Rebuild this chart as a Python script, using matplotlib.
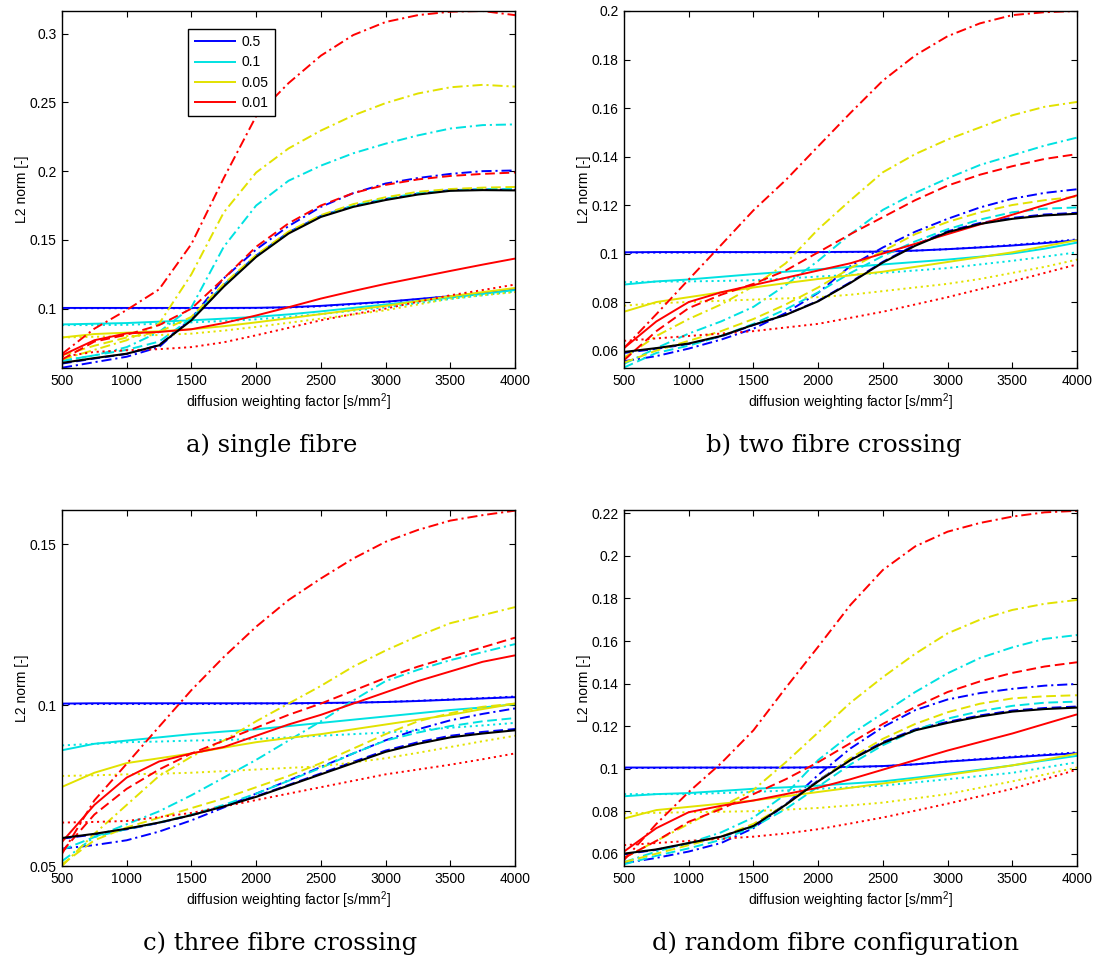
import matplotlib
matplotlib.use("Agg")
import matplotlib.pyplot as plt
from matplotlib.ticker import FuncFormatter, FixedLocator

plt.rcParams["font.family"] = ["Liberation Sans", "DejaVu Sans"]
plt.rcParams["mathtext.fontset"] = "custom"
plt.rcParams["mathtext.rm"] = "Liberation Sans"
plt.rcParams["mathtext.it"] = "Liberation Sans:italic"

# b-values [s/mm^2]
bvalues = [500, 750, 1000, 1250, 1500, 1750, 2000, 2250, 2500, 2750, 3000, 3250, 3500, 3750, 4000]

# legend entries (one colour per value)
legend_labels = ["0.5", "0.1", "0.05", "0.01"]

# ---------------- a) single fibre ----------------
single_reference = [0.0605, 0.0640, 0.0672, 0.0733, 0.0915, 0.1160, 0.1376, 0.1546, 0.1667, 0.1740, 0.1790, 0.1830, 0.1857, 0.1862, 0.1860]
single_blue_solid = [0.1005, 0.1005, 0.1005, 0.1005, 0.1005, 0.1005, 0.1006, 0.1010, 0.1020, 0.1035, 0.1050, 0.1070, 0.1090, 0.1112, 0.1140]
single_blue_dashed = [0.0600, 0.0637, 0.0670, 0.0735, 0.0925, 0.1172, 0.1386, 0.1555, 0.1675, 0.1748, 0.1797, 0.1836, 0.1862, 0.1867, 0.1865]
single_blue_dotted = [0.1003, 0.1003, 0.1003, 0.1003, 0.1003, 0.1003, 0.1004, 0.1008, 0.1017, 0.1032, 0.1048, 0.1068, 0.1090, 0.1113, 0.1142]
single_blue_dashdot = [0.0570, 0.0610, 0.0650, 0.0720, 0.0930, 0.1220, 0.1430, 0.1600, 0.1740, 0.1840, 0.1910, 0.1950, 0.1980, 0.2000, 0.2005]
single_cyan_solid = [0.0885, 0.0890, 0.0895, 0.0905, 0.0915, 0.0927, 0.0940, 0.0958, 0.0980, 0.1005, 0.1030, 0.1055, 0.1080, 0.1107, 0.1135]
single_cyan_dashed = [0.0620, 0.0660, 0.0700, 0.0760, 0.0930, 0.1170, 0.1380, 0.1550, 0.1670, 0.1750, 0.1800, 0.1840, 0.1860, 0.1870, 0.1870]
single_cyan_dotted = [0.0880, 0.0880, 0.0882, 0.0890, 0.0900, 0.0910, 0.0922, 0.0940, 0.0960, 0.0985, 0.1010, 0.1040, 0.1070, 0.1097, 0.1125]
single_cyan_dashdot = [0.0620, 0.0660, 0.0720, 0.0830, 0.1010, 0.1450, 0.1750, 0.1930, 0.2040, 0.2130, 0.2200, 0.2260, 0.2310, 0.2335, 0.2340]
single_yellow_solid = [0.0790, 0.0815, 0.0825, 0.0835, 0.0850, 0.0872, 0.0900, 0.0930, 0.0960, 0.0990, 0.1020, 0.1055, 0.1090, 0.1120, 0.1150]
single_yellow_dashed = [0.0660, 0.0730, 0.0790, 0.0830, 0.0940, 0.1180, 0.1390, 0.1560, 0.1680, 0.1760, 0.1810, 0.1850, 0.1870, 0.1880, 0.1885]
single_yellow_dotted = [0.0790, 0.0795, 0.0800, 0.0808, 0.0818, 0.0840, 0.0867, 0.0897, 0.0927, 0.0957, 0.0988, 0.1030, 0.1073, 0.1097, 0.1120]
single_yellow_dashdot = [0.0630, 0.0700, 0.0770, 0.0890, 0.1250, 0.1700, 0.1990, 0.2165, 0.2295, 0.2405, 0.2495, 0.2565, 0.2610, 0.2628, 0.2615]
single_red_solid = [0.0660, 0.0770, 0.0820, 0.0830, 0.0850, 0.0895, 0.0950, 0.1010, 0.1073, 0.1128, 0.1180, 0.1227, 0.1274, 0.1320, 0.1364]
single_red_dashed = [0.0630, 0.0760, 0.0810, 0.0880, 0.1000, 0.1220, 0.1450, 0.1620, 0.1750, 0.1840, 0.1900, 0.1940, 0.1965, 0.1980, 0.1990]
single_red_dotted = [0.0650, 0.0685, 0.0697, 0.0705, 0.0720, 0.0755, 0.0806, 0.0860, 0.0915, 0.0960, 0.1000, 0.1050, 0.1097, 0.1135, 0.1175]
single_red_dashdot = [0.0670, 0.0854, 0.0990, 0.1140, 0.1470, 0.1950, 0.2400, 0.2640, 0.2840, 0.2990, 0.3085, 0.3135, 0.3160, 0.3165, 0.3135]

# ---------------- b) two fibre crossing ----------------
two_reference = [0.0594, 0.0610, 0.0629, 0.0660, 0.0706, 0.0747, 0.0803, 0.0879, 0.0963, 0.1032, 0.1088, 0.1122, 0.1143, 0.1157, 0.1164]
two_blue_solid = [0.1005, 0.1006, 0.1006, 0.1006, 0.1006, 0.1006, 0.1006, 0.1007, 0.1008, 0.1012, 0.1018, 0.1025, 0.1033, 0.1043, 0.1055]
two_blue_dashed = [0.0590, 0.0607, 0.0627, 0.0658, 0.0705, 0.0748, 0.0805, 0.0882, 0.0966, 0.1036, 0.1092, 0.1126, 0.1147, 0.1161, 0.1168]
two_blue_dotted = [0.1003, 0.1004, 0.1004, 0.1005, 0.1005, 0.1005, 0.1005, 0.1006, 0.1008, 0.1012, 0.1018, 0.1026, 0.1035, 0.1046, 0.1058]
two_blue_dashdot = [0.0556, 0.0577, 0.0608, 0.0645, 0.0690, 0.0755, 0.0838, 0.0949, 0.1025, 0.1090, 0.1143, 0.1190, 0.1226, 0.1250, 0.1265]
two_cyan_solid = [0.0872, 0.0885, 0.0893, 0.0904, 0.0915, 0.0925, 0.0935, 0.0945, 0.0955, 0.0965, 0.0975, 0.0987, 0.1000, 0.1020, 0.1045]
two_cyan_dashed = [0.0530, 0.0590, 0.0620, 0.0660, 0.0710, 0.0770, 0.0840, 0.0920, 0.0990, 0.1050, 0.1100, 0.1140, 0.1170, 0.1185, 0.1190]
two_cyan_dotted = [0.0882, 0.0884, 0.0885, 0.0887, 0.0890, 0.0897, 0.0905, 0.0912, 0.0920, 0.0930, 0.0940, 0.0955, 0.0970, 0.0987, 0.1005]
two_cyan_dashdot = [0.0545, 0.0610, 0.0670, 0.0720, 0.0780, 0.0870, 0.0970, 0.1080, 0.1180, 0.1250, 0.1310, 0.1365, 0.1405, 0.1445, 0.1478]
two_yellow_solid = [0.0760, 0.0800, 0.0820, 0.0840, 0.0860, 0.0878, 0.0895, 0.0910, 0.0925, 0.0945, 0.0965, 0.0985, 0.1005, 0.1030, 0.1055]
two_yellow_dashed = [0.0550, 0.0600, 0.0640, 0.0680, 0.0730, 0.0790, 0.0860, 0.0940, 0.1010, 0.1080, 0.1130, 0.1170, 0.1200, 0.1220, 0.1235]
two_yellow_dotted = [0.0785, 0.0795, 0.0800, 0.0805, 0.0810, 0.0815, 0.0820, 0.0830, 0.0845, 0.0860, 0.0875, 0.0895, 0.0920, 0.0945, 0.0975]
two_yellow_dashdot = [0.0570, 0.0660, 0.0730, 0.0790, 0.0865, 0.0960, 0.1100, 0.1220, 0.1335, 0.1410, 0.1470, 0.1520, 0.1570, 0.1605, 0.1625]
two_red_solid = [0.0610, 0.0720, 0.0800, 0.0840, 0.0870, 0.0900, 0.0930, 0.0960, 0.1000, 0.1040, 0.1080, 0.1120, 0.1160, 0.1200, 0.1240]
two_red_dashed = [0.0560, 0.0680, 0.0775, 0.0830, 0.0875, 0.0930, 0.1005, 0.1080, 0.1150, 0.1220, 0.1280, 0.1325, 0.1360, 0.1390, 0.1410]
two_red_dotted = [0.0640, 0.0650, 0.0660, 0.0670, 0.0680, 0.0695, 0.0710, 0.0735, 0.0760, 0.0790, 0.0820, 0.0853, 0.0885, 0.0920, 0.0955]
two_red_dashdot = [0.0610, 0.0750, 0.0893, 0.1035, 0.1178, 0.1303, 0.1442, 0.1580, 0.1713, 0.1817, 0.1896, 0.1949, 0.1983, 0.1995, 0.2000]

# ---------------- c) three fibre crossing ----------------
three_reference = [0.0587, 0.0600, 0.0616, 0.0635, 0.0658, 0.0685, 0.0715, 0.0750, 0.0785, 0.0820, 0.0855, 0.0880, 0.0900, 0.0912, 0.0922]
three_blue_solid = [0.1005, 0.1006, 0.1006, 0.1006, 0.1006, 0.1006, 0.1006, 0.1006, 0.1007, 0.1008, 0.1010, 0.1013, 0.1017, 0.1021, 0.1025]
three_blue_dashed = [0.0585, 0.0598, 0.0614, 0.0634, 0.0658, 0.0686, 0.0717, 0.0752, 0.0788, 0.0824, 0.0859, 0.0885, 0.0905, 0.0917, 0.0926]
three_blue_dotted = [0.1003, 0.1004, 0.1004, 0.1004, 0.1004, 0.1004, 0.1005, 0.1005, 0.1006, 0.1008, 0.1010, 0.1014, 0.1018, 0.1022, 0.1027]
three_blue_dashdot = [0.0554, 0.0565, 0.0580, 0.0607, 0.0642, 0.0682, 0.0725, 0.0766, 0.0808, 0.0850, 0.0891, 0.0925, 0.0953, 0.0973, 0.0990]
three_cyan_solid = [0.0860, 0.0880, 0.0890, 0.0900, 0.0910, 0.0918, 0.0925, 0.0935, 0.0945, 0.0955, 0.0965, 0.0975, 0.0985, 0.0993, 0.1003]
three_cyan_dashed = [0.0550, 0.0590, 0.0615, 0.0635, 0.0660, 0.0690, 0.0725, 0.0765, 0.0805, 0.0850, 0.0890, 0.0915, 0.0935, 0.0950, 0.0960]
three_cyan_dotted = [0.0875, 0.0880, 0.0885, 0.0887, 0.0890, 0.0892, 0.0895, 0.0900, 0.0905, 0.0910, 0.0915, 0.0922, 0.0930, 0.0937, 0.0945]
three_cyan_dashdot = [0.0515, 0.0590, 0.0630, 0.0670, 0.0720, 0.0775, 0.0830, 0.0890, 0.0950, 0.1015, 0.1075, 0.1110, 0.1140, 0.1165, 0.1190]
three_yellow_solid = [0.0746, 0.0790, 0.0820, 0.0835, 0.0850, 0.0868, 0.0885, 0.0898, 0.0910, 0.0925, 0.0940, 0.0955, 0.0970, 0.0988, 0.1005]
three_yellow_dashed = [0.0505, 0.0580, 0.0620, 0.0650, 0.0680, 0.0710, 0.0745, 0.0780, 0.0820, 0.0865, 0.0910, 0.0950, 0.0975, 0.0995, 0.1005]
three_yellow_dotted = [0.0780, 0.0782, 0.0785, 0.0787, 0.0790, 0.0795, 0.0800, 0.0805, 0.0810, 0.0822, 0.0835, 0.0852, 0.0870, 0.0888, 0.0905]
three_yellow_dashdot = [0.0500, 0.0600, 0.0690, 0.0780, 0.0840, 0.0890, 0.0950, 0.1005, 0.1060, 0.1120, 0.1170, 0.1215, 0.1255, 0.1280, 0.1305]
three_red_solid = [0.0575, 0.0690, 0.0775, 0.0825, 0.0850, 0.0870, 0.0905, 0.0940, 0.0970, 0.1005, 0.1040, 0.1075, 0.1105, 0.1135, 0.1155]
three_red_dashed = [0.0545, 0.0660, 0.0740, 0.0800, 0.0850, 0.0890, 0.0930, 0.0970, 0.1005, 0.1045, 0.1085, 0.1120, 0.1150, 0.1180, 0.1210]
three_red_dotted = [0.0635, 0.0637, 0.0640, 0.0652, 0.0665, 0.0685, 0.0705, 0.0725, 0.0745, 0.0765, 0.0785, 0.0800, 0.0815, 0.0832, 0.0850]
three_red_dashdot = [0.0538, 0.0704, 0.0818, 0.0933, 0.1047, 0.1150, 0.1244, 0.1327, 0.1394, 0.1456, 0.1508, 0.1545, 0.1574, 0.1591, 0.1605]

# ---------------- d) random fibre configuration ----------------
random_reference = [0.0600, 0.0620, 0.0650, 0.0680, 0.0730, 0.0830, 0.0940, 0.1040, 0.1120, 0.1180, 0.1215, 0.1245, 0.1268, 0.1280, 0.1287]
random_blue_solid = [0.1005, 0.1005, 0.1005, 0.1005, 0.1005, 0.1005, 0.1006, 0.1008, 0.1012, 0.1020, 0.1033, 0.1043, 0.1053, 0.1063, 0.1072]
random_blue_dashed = [0.0597, 0.0618, 0.0648, 0.0679, 0.0731, 0.0833, 0.0944, 0.1045, 0.1125, 0.1185, 0.1220, 0.1250, 0.1273, 0.1285, 0.1292]
random_blue_dotted = [0.1003, 0.1003, 0.1004, 0.1004, 0.1004, 0.1004, 0.1005, 0.1007, 0.1011, 0.1020, 0.1034, 0.1045, 0.1056, 0.1066, 0.1076]
random_blue_dashdot = [0.0555, 0.0580, 0.0610, 0.0650, 0.0720, 0.0830, 0.0970, 0.1095, 0.1195, 0.1275, 0.1325, 0.1355, 0.1375, 0.1390, 0.1398]
random_cyan_solid = [0.0870, 0.0880, 0.0885, 0.0895, 0.0905, 0.0912, 0.0920, 0.0930, 0.0940, 0.0957, 0.0975, 0.0995, 0.1015, 0.1038, 0.1060]
random_cyan_dashed = [0.0550, 0.0590, 0.0625, 0.0665, 0.0725, 0.0810, 0.0915, 0.1020, 0.1110, 0.1180, 0.1235, 0.1270, 0.1295, 0.1310, 0.1315]
random_cyan_dotted = [0.0880, 0.0880, 0.0880, 0.0885, 0.0890, 0.0897, 0.0905, 0.0912, 0.0920, 0.0935, 0.0950, 0.0965, 0.0980, 0.1005, 0.1030]
random_cyan_dashdot = [0.0560, 0.0610, 0.0650, 0.0700, 0.0770, 0.0880, 0.1040, 0.1160, 0.1260, 0.1360, 0.1448, 0.1520, 0.1570, 0.1610, 0.1628]
random_yellow_solid = [0.0765, 0.0805, 0.0820, 0.0835, 0.0850, 0.0870, 0.0890, 0.0910, 0.0930, 0.0950, 0.0970, 0.0992, 0.1015, 0.1042, 0.1070]
random_yellow_dashed = [0.0560, 0.0600, 0.0640, 0.0680, 0.0740, 0.0830, 0.0940, 0.1050, 0.1140, 0.1210, 0.1265, 0.1305, 0.1330, 0.1340, 0.1345]
random_yellow_dotted = [0.0790, 0.0792, 0.0795, 0.0797, 0.0800, 0.0807, 0.0815, 0.0827, 0.0840, 0.0860, 0.0880, 0.0910, 0.0940, 0.0972, 0.1005]
random_yellow_dashdot = [0.0580, 0.0660, 0.0740, 0.0820, 0.0900, 0.1030, 0.1170, 0.1310, 0.1430, 0.1540, 0.1636, 0.1700, 0.1746, 0.1775, 0.1793]
random_red_solid = [0.0610, 0.0720, 0.0795, 0.0825, 0.0850, 0.0880, 0.0910, 0.0950, 0.0995, 0.1040, 0.1085, 0.1125, 0.1165, 0.1210, 0.1255]
random_red_dashed = [0.0580, 0.0660, 0.0750, 0.0810, 0.0880, 0.0950, 0.1030, 0.1120, 0.1210, 0.1290, 0.1360, 0.1410, 0.1450, 0.1480, 0.1500]
random_red_dotted = [0.0640, 0.0650, 0.0660, 0.0670, 0.0680, 0.0695, 0.0715, 0.0742, 0.0770, 0.0802, 0.0835, 0.0870, 0.0905, 0.0950, 0.0995]
random_red_dashdot = [0.0570, 0.0740, 0.0890, 0.1025, 0.1180, 0.1380, 0.1573, 0.1770, 0.1934, 0.2045, 0.2114, 0.2155, 0.2185, 0.2205, 0.2212]

# y-axis ticks per panel
single_yticks = [0.1, 0.15, 0.2, 0.25, 0.3]
two_yticks = [0.06, 0.08, 0.1, 0.12, 0.14, 0.16, 0.18, 0.2]
three_yticks = [0.05, 0.1, 0.15]
random_yticks = [0.06, 0.08, 0.1, 0.12, 0.14, 0.16, 0.18, 0.2, 0.22]
xticks = [500, 1000, 1500, 2000, 2500, 3000, 3500, 4000]

captions = ["a) single fibre", "b) two fibre crossing",
            "c) three fibre crossing", "d) random fibre configuration"]

colours = {"blue": "#0000ff", "cyan": "#00e2e2", "yellow": "#e2e200", "red": "#ff0000"}
styles = {
    "solid": "-",
    "dashed": (0, (5.0, 2.4)),
    "dotted": (0, (1.1, 1.9)),
    "dashdot": (0, (5.2, 2.0, 1.1, 2.0)),
}

g = globals()
panels = [
    ("single", single_yticks, (0.0568, 0.3165)),
    ("two", two_yticks, (0.0528, 0.2000)),
    ("three", three_yticks, (0.0500, 0.1607)),
    ("random", random_yticks, (0.0542, 0.2216)),
]

fig = plt.figure(figsize=(10.99, 9.61), dpi=100)
W, H = 1099.0, 961.0
boxes = [(62, 11, 515, 368), (624, 11, 1077, 368),
         (62, 510, 515, 866), (624, 510, 1077, 866)]
caption_x = [272, 834, 280, 836]
caption_base = [452, 452, 950, 950]

fmt = FuncFormatter(lambda v, p: ("%g" % round(v, 4)))
FS = 10

for i, (name, yt, ylim) in enumerate(panels):
    x0, y0, x1, y1 = boxes[i]
    ax = fig.add_axes([x0 / W, 1 - y1 / H, (x1 - x0) / W, (y1 - y0) / H])
    handles = []
    for cname, col in colours.items():
        for sname, ls in styles.items():
            vals = g[f"{name}_{cname}_{sname}"]
            (ln,) = ax.plot(bvalues, vals, color=col, linestyle=ls, linewidth=1.4,
                            solid_capstyle="butt", dash_capstyle="butt")
            if sname == "solid":
                handles.append(ln)
    ax.plot(bvalues, g[f"{name}_reference"], color="black", linewidth=1.5)

    ax.set_xlim(500, 4000)
    ax.set_ylim(*ylim)
    ax.xaxis.set_major_locator(FixedLocator(xticks))
    ax.yaxis.set_major_locator(FixedLocator(yt))
    ax.yaxis.set_major_formatter(fmt)
    ax.tick_params(direction="in", length=4, width=0.8, top=True, right=True,
                   labelsize=FS, pad=4, colors="black")
    for sp in ax.spines.values():
        sp.set_linewidth(1.0)
    ax.set_xlabel("diffusion weighting factor [s/mm$^2$]", fontsize=FS, labelpad=3)
    ax.set_ylabel("L2 norm [-]", fontsize=FS, labelpad=0)

    if i == 0:
        leg = ax.legend(handles, legend_labels, loc="upper left",
                        bbox_to_anchor=((188 - x0) / (x1 - x0), (y1 - 29) / (y1 - y0)),
                        borderaxespad=0, fontsize=FS, handlelength=3.0,
                        handletextpad=0.4, labelspacing=0.45, borderpad=0.45,
                        fancybox=False, framealpha=1, edgecolor="black")
        leg.get_frame().set_linewidth(1.0)

    fig.text(caption_x[i] / W, 1 - caption_base[i] / H, captions[i],
             ha="center", va="baseline", fontsize=17.5,
             family=["DejaVu Serif", "Liberation Serif"])

fig.savefig("out.png", dpi=100)
